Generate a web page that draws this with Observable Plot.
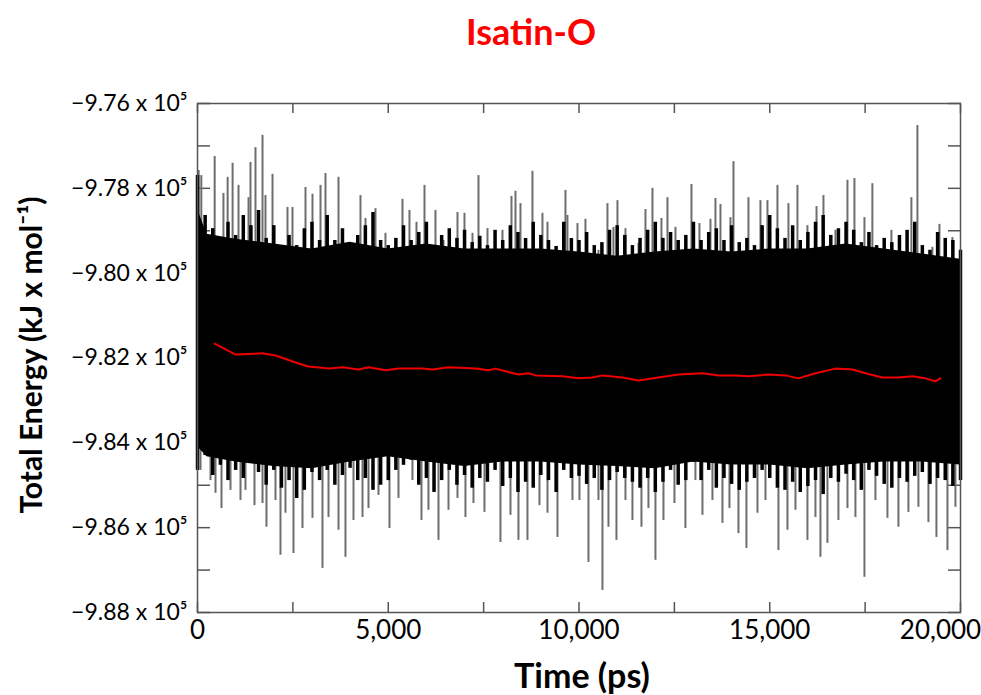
<!DOCTYPE html>
<html>
<head>
<meta charset="utf-8">
<script src="https://cdn.jsdelivr.net/npm/d3@7"></script>
<script src="https://cdn.jsdelivr.net/npm/@observablehq/plot@0.6"></script>
<style>
  html, body { margin: 0; padding: 0; background: #fff; overflow: hidden; }
  #title { height: 70px; line-height: 62px; width: 981px; position: relative; font-family: Lato, sans-serif; }
  #title span { position: absolute; left: 431px; width: 200px; text-align: center; color: #ff0000; font-weight: bold; font-size: 36px; }
</style>
</head>
<body>
<div id="title"><span>Isatin-O</span></div>
<div id="chart"></div>
<script>
// ---- data (time in ps, energy in kJ/mol) ----
const xTickValues = [0, 2500, 5000, 7500, 10000, 12500, 15000, 17500, 20000];
const xLabelValues = [0, 5000, 10000, 15000];
const xLastLabel = [20000];
const yTickValues = [-988000, -987000, -986000, -985000, -984000, -983000, -982000, -981000, -980000, -979000, -978000, -977000, -976000];
const yLabelValues = [-988000, -986000, -984000, -982000, -980000, -978000, -976000];

// dense fluctuation band [time, upper, lower]
const coreBand = [
  [0, -978490, -984090], [250, -979080, -984330], [1000, -979200, -984450], [2000, -979310, -984560],
  [3000, -979430, -984610], [4000, -979270, -984450], [5000, -979430, -984330], [6000, -979310, -984450],
  [7000, -979430, -984560], [8000, -979430, -984450], [9000, -979430, -984450], [10000, -979500, -984520],
  [11000, -979600, -984560], [12000, -979500, -984610], [13000, -979430, -984450], [14000, -979500, -984520],
  [15000, -979430, -984520], [16000, -979430, -984610], [17000, -979310, -984520], [18000, -979430, -984450],
  [19000, -979550, -984450], [20000, -979670, -984520]
];

// mean energy level the fluctuations spread from
const meanEnergy = -982200;

// frequent (black) upper excursions [time, energy]
const fringeUp = [
  [0, -977700], [200, -978640], [400, -978950], [600, -979230], [800, -978800], [1000, -979110],
  [1200, -978640], [1400, -978880], [1600, -978520], [1800, -979180], [2000, -978880], [2200, -979350],
  [2400, -979110], [2600, -979350], [2800, -978950], [3000, -978800], [3200, -979230], [3400, -978640],
  [3600, -979230], [3800, -978950], [4000, -979350], [4200, -979110], [4400, -978880], [4600, -978570],
  [4800, -979230], [5000, -979350], [5200, -979180], [5400, -978880], [5600, -979230], [5800, -979040],
  [6000, -978800], [6200, -979350], [6400, -979110], [6600, -978950], [6800, -979180], [7000, -978990],
  [7200, -979280], [7400, -979130], [7600, -979350], [7800, -978990], [8000, -979230], [8200, -978880],
  [8400, -979040], [8600, -979180], [8800, -978800], [9000, -979110], [9200, -979230], [9400, -979370],
  [9600, -978800], [9800, -979180], [10000, -979230], [10200, -979040], [10400, -979350], [10600, -979280],
  [10800, -978990], [11000, -978880], [11200, -979110], [11400, -979350], [11600, -979180], [11800, -978990],
  [12000, -978800], [12200, -979180], [12400, -979040], [12600, -979230], [12800, -979110], [13000, -978800],
  [13200, -979230], [13400, -979040], [13600, -978950], [13800, -979230], [14000, -978880], [14200, -979280],
  [14400, -979180], [14600, -979350], [14800, -978880], [15000, -978640], [15200, -978950], [15400, -979180],
  [15600, -978880], [15800, -979230], [16000, -979040], [16200, -978800], [16400, -978640], [16600, -979110],
  [16800, -978950], [17000, -978800], [17200, -978990], [17400, -979280], [17600, -979040], [17800, -979350],
  [18000, -979180], [18200, -979280], [18400, -979110], [18600, -978990], [18800, -978800], [19000, -979350],
  [19200, -979460], [19400, -979040], [19600, -979180], [19800, -979230], [20000, -979460]
];

// frequent (black) lower excursions [time, energy]
const fringeDown = [
  [0, -984650], [200, -984300], [400, -984770], [600, -984530], [800, -984890], [1000, -984650],
  [1200, -984840], [1400, -984460], [1600, -984700], [1800, -985000], [2000, -984650], [2200, -985070],
  [2400, -984890], [2600, -985310], [2800, -985120], [3000, -984700], [3200, -984890], [3400, -984650],
  [3600, -985000], [3800, -984770], [4000, -984600], [4200, -984890], [4400, -984840], [4600, -985120],
  [4800, -985000], [5000, -984890], [5200, -984650], [5400, -984530], [5600, -984410], [5800, -985000],
  [6000, -984840], [6200, -985170], [6400, -984890], [6600, -984650], [6800, -985000], [7000, -984770],
  [7200, -985070], [7400, -984840], [7600, -984930], [7800, -984650], [8000, -985030], [8200, -984840],
  [8400, -985170], [8600, -984930], [8800, -985070], [9000, -984770], [9200, -984890], [9400, -985170],
  [9600, -984650], [9800, -984840], [10000, -984790], [10200, -984980], [10400, -984840], [10600, -985120],
  [10800, -984890], [11000, -984700], [11200, -984840], [11400, -984930], [11600, -985070], [11800, -984840],
  [12000, -985170], [12200, -984930], [12400, -984650], [12600, -985000], [12800, -984890], [13000, -984460],
  [13200, -984890], [13400, -984650], [13600, -985070], [13800, -984840], [14000, -984980], [14200, -985120],
  [14400, -984930], [14600, -984840], [14800, -984650], [15000, -984840], [15200, -985070], [15400, -985120],
  [15600, -984930], [15800, -985170], [16000, -985030], [16200, -984890], [16400, -985220], [16600, -984840],
  [16800, -984930], [17000, -984740], [17200, -984890], [17400, -985120], [17600, -984650], [17800, -984790],
  [18000, -984980], [18200, -985070], [18400, -984840], [18600, -984930], [18800, -984790], [19000, -984700],
  [19200, -984980], [19400, -984840], [19600, -984890], [19800, -985030], [20000, -984890]
];

// large upward excursions [time, energy]
const spikesUp = [
  [30, -977580], [100, -977700], [450, -977250], [680, -978120], [790, -977740], [920, -977410],
  [1075, -977930], [1337, -978220], [1389, -977390], [1520, -977040], [1704, -976750], [1782, -978170],
  [1966, -977670], [2359, -978450], [2490, -978450], [2831, -977980], [3014, -978140], [3224, -977930],
  [3355, -977650], [3696, -977740], [4272, -978170], [4403, -978710], [4665, -978480], [4927, -979060],
  [5373, -978260], [5556, -978520], [5740, -978800], [5950, -977930], [6238, -978520], [6448, -979230],
  [6815, -978570], [6998, -978590], [7208, -979060], [7365, -977700], [7601, -978950], [7994, -978990],
  [8230, -978190], [8335, -978070], [8466, -978360], [8780, -977600], [9042, -978590], [9174, -978800],
  [9645, -978050], [9697, -978640], [9960, -978830], [10169, -978730], [10510, -979460], [10746, -978360],
  [10903, -978920], [11008, -978290], [11218, -978950], [11559, -979300], [11742, -978500], [11926, -978000],
  [12161, -978710], [12319, -978220], [12529, -978920], [12948, -977910], [13157, -978830], [13446, -978730],
  [13577, -978240], [13708, -978380], [13970, -978690], [14049, -977370], [14442, -978220], [14756, -978290],
  [14940, -978290], [15202, -977930], [15490, -978360], [15726, -977930], [15988, -978880], [16226, -978430],
  [16408, -978170], [16722, -978990], [17037, -977810], [17220, -977770], [17482, -978690], [17690, -977890],
  [18189, -978990], [18399, -979280], [18713, -978220], [18871, -976520], [19264, -979390], [19448, -978850],
  [19788, -979160], [19946, -979700]
];

// large downward excursions [time, energy]
const spikesDown = [
  [79, -984650], [341, -984890], [472, -985190], [629, -985550], [865, -985120], [1127, -985360],
  [1258, -985120], [1494, -985480], [1704, -985430], [1808, -985990], [2044, -985360], [2175, -986650],
  [2306, -985660], [2516, -986610], [2752, -986020], [3014, -985780], [3276, -986960], [3434, -985760],
  [3696, -986060], [3879, -986700], [4089, -985830], [4325, -985760], [4482, -985550], [4744, -985240],
  [5032, -986020], [5268, -985310], [5635, -984890], [5871, -985830], [6054, -985590], [6317, -986300],
  [6579, -985590], [6815, -985310], [7024, -985760], [7234, -985430], [7522, -985640], [7941, -986350],
  [8204, -985710], [8413, -986300], [8649, -986300], [8964, -985480], [9174, -985660], [9436, -986230],
  [9829, -985360], [10012, -985360], [10248, -986820], [10510, -985360], [10615, -987480], [10772, -985990],
  [10982, -986300], [11218, -985360], [11401, -985830], [11637, -985990], [11820, -985550], [12004, -986770],
  [12214, -985830], [12502, -985430], [12790, -986020], [13052, -984890], [13236, -985710], [13498, -985360],
  [13760, -985900], [13944, -985550], [14180, -986140], [14389, -986490], [14678, -985660], [14888, -985360],
  [15228, -986540], [15464, -986060], [15674, -985590], [15988, -986300], [16198, -985760], [16329, -986700],
  [16512, -986370], [16800, -985830], [17037, -985550], [17246, -985760], [17482, -987170], [17770, -985360],
  [18085, -985780], [18373, -985990], [18635, -985640], [18897, -985520], [19159, -985880], [19369, -986230],
  [19658, -986540], [19867, -985520]
];

// running average [time, energy]
const runningAvg = [
  [450, -981660], [1000, -981920], [1700, -981890], [2050, -981940], [2550, -982100], [2900, -982200],
  [3450, -982250], [3800, -982220], [4220, -982270], [4480, -982220], [4930, -982290], [5270, -982250],
  [5900, -982250], [6160, -982270], [6580, -982220], [7290, -982250], [7630, -982290], [7810, -982250],
  [8410, -982390], [8680, -982360], [8860, -982410], [9570, -982430], [9990, -982480], [10350, -982460],
  [10620, -982410], [11140, -982460], [11560, -982530], [12080, -982460], [12610, -982390], [13240, -982360],
  [13660, -982410], [14100, -982410], [14440, -982430], [14970, -982390], [15410, -982410], [15750, -982480],
  [16200, -982360], [16720, -982250], [17170, -982270], [17510, -982360], [17950, -982460], [18370, -982460],
  [18740, -982430], [19080, -982480], [19340, -982550], [19470, -982480]
];

// ---- chart ----
const yFmt = d => (d / 1e5).toFixed(2).replace("-", "\u2212") + " x 10\u2075";
const xFmt = d3.format(",");
const blank = () => "";

const chart = Plot.plot({
  width: 981,
  height: 625,
  marginLeft: 197,
  marginRight: 21,
  marginTop: 33,
  marginBottom: 83,
  style: { fontFamily: "Lato, sans-serif", background: "white", color: "black" },
  x: { domain: [0, 20000] },
  y: { domain: [-988000, -976000] },
  marks: [
    Plot.axisY(yTickValues, { anchor: "left", tickSize: -13, tickFormat: blank, stroke: "#555", strokeWidth: 1.5, label: null }),
    Plot.axisY(yTickValues, { anchor: "right", tickSize: -13, tickFormat: blank, stroke: "#555", strokeWidth: 1.5, label: null }),
    Plot.axisX(xTickValues, { anchor: "bottom", tickSize: -10, tickFormat: blank, stroke: "#555", strokeWidth: 1.5, label: null }),
    Plot.axisX(xTickValues, { anchor: "top", tickSize: -9, tickFormat: blank, stroke: "#555", strokeWidth: 1.5, label: null }),
    Plot.ruleX(spikesUp, { x: d => d[0], y1: meanEnergy, y2: d => d[1], stroke: "#6e6e6e", strokeWidth: 2 }),
    Plot.ruleX(spikesDown, { x: d => d[0], y1: meanEnergy, y2: d => d[1], stroke: "#6e6e6e", strokeWidth: 2 }),
    Plot.ruleX(fringeUp, { x: d => d[0], y1: meanEnergy, y2: d => d[1], stroke: "black", strokeWidth: 3.5 }),
    Plot.ruleX(fringeDown, { x: d => d[0], y1: meanEnergy, y2: d => d[1], stroke: "black", strokeWidth: 3.5 }),
    Plot.areaY(coreBand, { x: d => d[0], y1: d => d[2], y2: d => d[1], fill: "black" }),
    Plot.line(runningAvg, { x: d => d[0], y: d => d[1], stroke: "#ee0000", strokeWidth: 2 }),
    Plot.frame({ stroke: "#555", strokeWidth: 1.5 }),
    Plot.axisY(yLabelValues, { anchor: "left", tickSize: 0, tickPadding: 10, tickFormat: yFmt, fontSize: 23, label: null }),
    Plot.axisX(xLabelValues, { anchor: "bottom", tickSize: 0, tickPadding: 8, tickFormat: xFmt, fontSize: 26, label: null }),
    Plot.axisX(xLastLabel, { anchor: "bottom", tickSize: 0, tickPadding: 8, tickFormat: xFmt, fontSize: 26, dx: -20, label: null }),
    Plot.text(["Time (ps)"], { frameAnchor: "bottom", textAnchor: "middle", lineAnchor: "middle", dy: 65, dx: 3, fontSize: 34, fontWeight: "bold" }),
    Plot.text(["Total Energy (kJ x mol\u207B\u00B9)"], { frameAnchor: "left", textAnchor: "middle", lineAnchor: "middle", rotate: -90, dx: -165, dy: -3, fontSize: 30, fontWeight: "bold" })
  ]
});
document.getElementById("chart").appendChild(chart);
</script>
</body>
</html>
